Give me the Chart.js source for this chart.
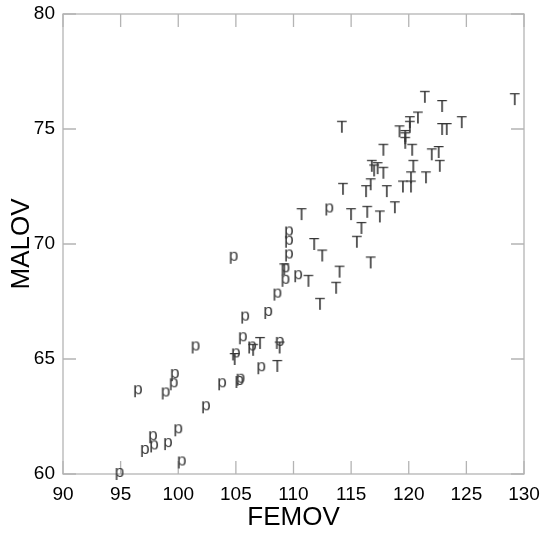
<!DOCTYPE html>
<html><head><meta charset="utf-8">
<script src="https://cdn.jsdelivr.net/npm/chart.js@4/dist/chart.umd.min.js"></script>
<style>html,body{margin:0;padding:0;background:#fff;overflow:hidden;}#wrap{width:542px;height:533px;}</style>
</head><body><div id="wrap"><canvas id="c" width="542" height="533"></canvas></div>
<script>
// ---- data ----
const pFemov = [94.9,100.3,97.1,97.9,97.8,99.1,100.0,102.4,96.5,98.9,99.6,99.7,103.8,105.3,105.4,105.0,101.5,105.6,106.4,107.2,108.8,105.8,107.8,108.6,109.3,110.4,109.3,109.6,109.6,109.6,104.8,113.1];
const pMalov = [60.0,60.5,61.0,61.2,61.6,61.3,61.9,62.9,63.6,63.5,63.9,64.3,63.9,64.0,64.1,65.2,65.5,65.9,65.5,64.6,65.7,66.8,67.0,67.8,68.4,68.6,68.9,69.5,70.1,70.5,69.4,71.5];
const tFemov = [104.9,106.5,107.1,108.8,108.6,109.2,111.3,112.3,113.7,114.0,112.5,111.8,110.7,115.0,116.4,117.5,118.8,115.9,115.5,116.7,114.3,116.3,116.7,118.1,119.5,120.2,120.2,121.5,120.4,122.7,116.8,117.0,117.3,117.8,117.8,120.3,122.0,122.6,114.2,120.8,121.4,122.9,129.2,124.6,122.9,123.3,120.1,120.1,119.2,119.7,119.7,119.7];
const tMalov = [65.0,65.4,65.7,65.5,64.7,68.9,68.4,67.4,68.1,68.8,69.5,70.0,71.3,71.3,71.4,71.2,71.6,70.7,70.1,69.2,72.4,72.3,72.6,72.3,72.5,72.5,72.9,72.9,73.4,73.4,73.4,73.2,73.3,73.1,74.1,74.1,73.9,74.0,75.1,75.5,76.4,76.0,76.3,75.3,75.0,75.0,75.3,75.1,74.9,74.7,74.6,74.4];
const xTickValues = [90,95,100,105,110,115,120,125,130];
const yTickValues = [60,65,70,75,80];
const xTitle = 'FEMOV';
const yTitle = 'MALOV';
const markerP = 'p';
const markerT = 'T';

// ---- marker glyphs ----
function glyph(ch){
  const c = document.createElement('canvas');
  c.width = 26; c.height = 26;
  const g = c.getContext('2d');
  g.font = '17px "Liberation Sans", Arial, sans-serif';
  g.fillStyle = '#363636';
  g.textAlign = 'center';
  g.textBaseline = 'alphabetic';
  const m = g.measureText(ch);
  const asc = m.actualBoundingBoxAscent, desc = m.actualBoundingBoxDescent;
  const base = 13 + (asc - desc) / 2;
  g.fillText(ch, 13, base);
  return c;
}
const toPts = (xs, ys) => xs.map((x, i) => ({x, y: ys[i]}));

const framePlugin = {
  id: 'frame',
  beforeDatasetsDraw(chart){
    const {ctx, chartArea: {left, right, top, bottom}, scales: {x, y}} = chart;
    const L = 13;
    ctx.save();
    ctx.strokeStyle = '#b4b4b4';
    ctx.lineWidth = 1.3;
    ctx.strokeRect(left, top, right - left, bottom - top);
    ctx.beginPath();
    x.ticks.forEach(t => {
      const px = x.getPixelForValue(t.value);
      ctx.moveTo(px, bottom); ctx.lineTo(px, bottom - L);
      ctx.moveTo(px, top); ctx.lineTo(px, top + L);
    });
    y.ticks.forEach(t => {
      const py = y.getPixelForValue(t.value);
      ctx.moveTo(left, py); ctx.lineTo(left + L, py);
      ctx.moveTo(right, py); ctx.lineTo(right - L, py);
    });
    ctx.stroke();
    ctx.restore();
  }
};

new Chart(document.getElementById('c'), {
  type: 'scatter',
  data: {
    datasets: [
      {data: toPts(pFemov, pMalov), pointStyle: glyph(markerP), clip: false},
      {data: toPts(tFemov, tMalov), pointStyle: glyph(markerT), clip: false}
    ]
  },
  options: {
    responsive: false,
    devicePixelRatio: 1,
    animation: false,
    events: [],
    layout: {padding: {top: 14, right: 18, left: 0, bottom: 0}},
    plugins: {legend: {display: false}, tooltip: {enabled: false}},
    scales: {
      x: {
        type: 'linear', min: 90, max: 130,
        afterBuildTicks: s => { s.ticks = xTickValues.map(v => ({value: v})); },
        afterFit: s => { s.height = 59; s.paddingLeft = 0; s.paddingRight = 0; },
        grid: {display: false, drawTicks: false},
        border: {display: false},
        ticks: {color: '#000', font: {family: '"Liberation Sans", Arial, sans-serif', size: 19}, padding: 9, maxRotation: 0, autoSkip: false},
        title: {display: true, text: xTitle, color: '#000', font: {family: '"Liberation Sans", Arial, sans-serif', size: 26}, padding: {top: 0, bottom: 0}}
      },
      y: {
        type: 'linear', min: 60, max: 80,
        afterBuildTicks: s => { s.ticks = yTickValues.map(v => ({value: v})); },
        afterFit: s => { s.width = 63; s.paddingTop = 0; s.paddingBottom = 0; },
        grid: {display: false, drawTicks: false},
        border: {display: false},
        ticks: {color: '#000', font: {family: '"Liberation Sans", Arial, sans-serif', size: 19}, padding: 8, autoSkip: false},
        title: {display: true, text: yTitle, color: '#000', font: {family: '"Liberation Sans", Arial, sans-serif', size: 26}, padding: {top: 6, bottom: 0}}
      }
    }
  },
  plugins: [framePlugin]
});
</script>
</body></html>
